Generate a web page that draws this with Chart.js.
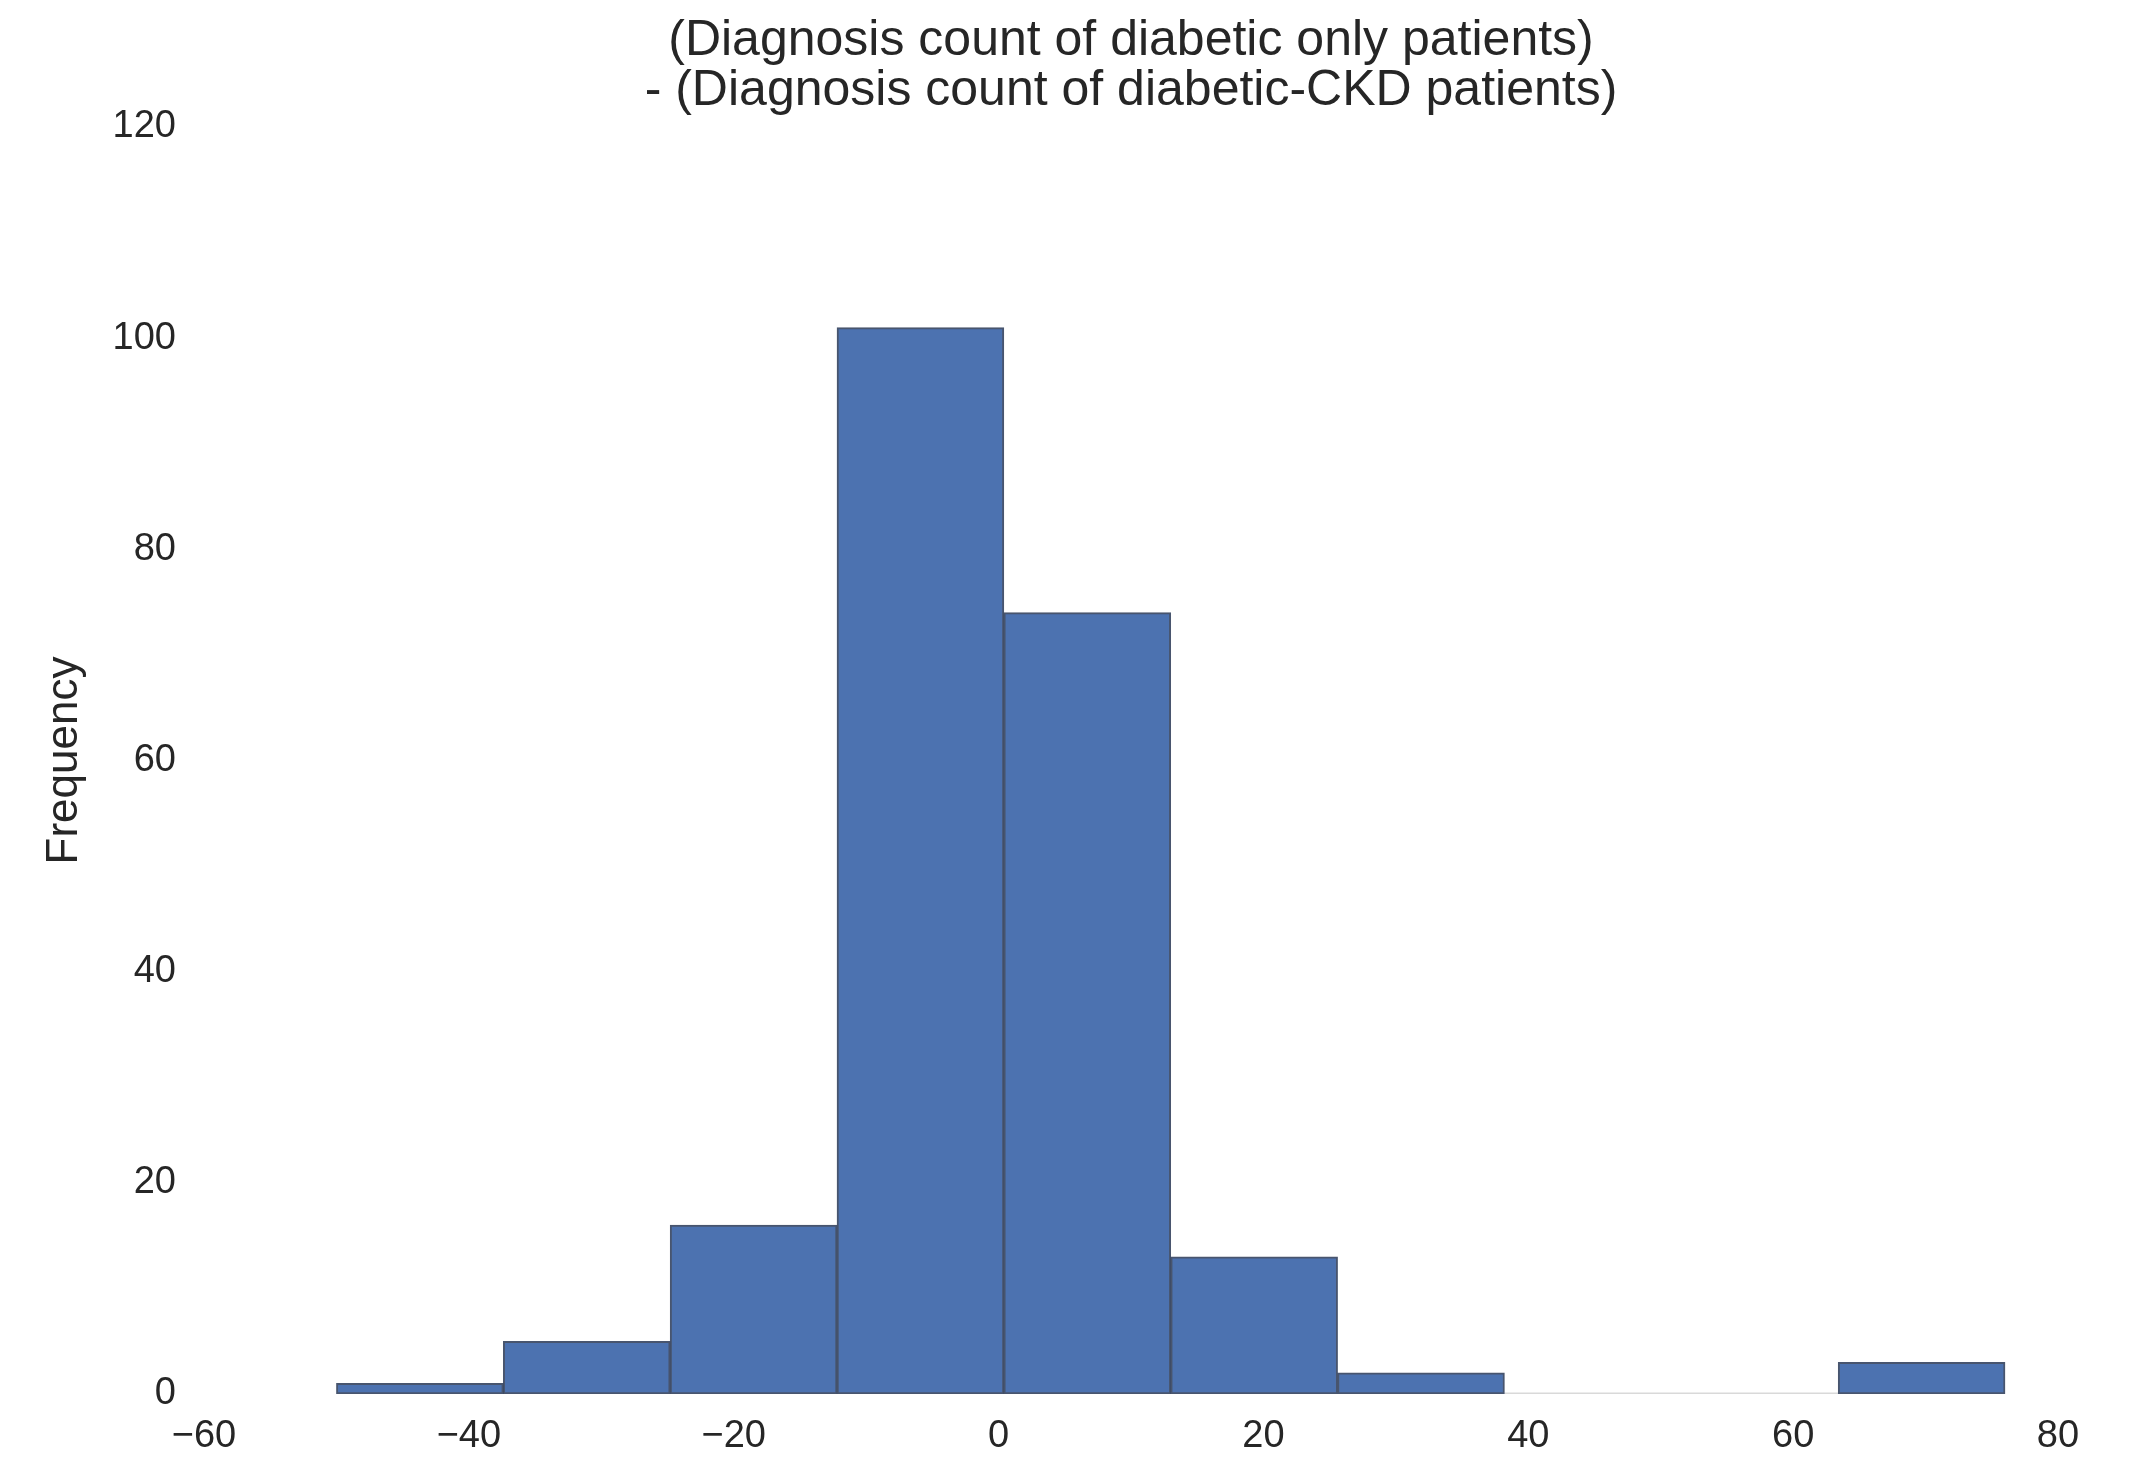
<!DOCTYPE html>
<html>
<head>
<meta charset="utf-8">
<script src="https://cdn.jsdelivr.net/npm/chart.js@4.4.1/dist/chart.umd.min.js"></script>
<style>
  html, body { margin: 0; padding: 0; background: #fff; }
  #wrap { width: 2130px; height: 1458px; }
</style>
</head>
<body>
<div id="wrap"><canvas id="hist" width="2130" height="1458"></canvas></div>
<script>
// ==========================================
// DATA
// ==========================================
const binEdges = [-50, -37.4, -24.8, -12.2, 0.4, 13, 25.6, 38.2, 50.8, 63.4, 76]; // 10 bins
const counts   = [1, 5, 16, 101, 74, 13, 2, 0, 0, 3];
const xTicks   = [-60, -40, -20, 0, 20, 40, 60, 80];
const yTicks   = [0, 20, 40, 60, 80, 100, 120];
const titleLines = ['(Diagnosis count of diabetic only patients)', '- (Diagnosis count of diabetic-CKD patients)'];
const yLabel = 'Frequency';

const FONT = '"Liberation Sans", Arial, Helvetica, sans-serif';
const TEXT = '#262626';

// bar centres from the bin edges
const barData = counts.map((c, i) => ({ x: (binEdges[i] + binEdges[i + 1]) / 2, y: c }));

// empty bins only show their edge as a thin grey line on the baseline
const emptyData = [];
counts.forEach((c, i) => {
    if (c === 0) {
        emptyData.push({ x: binEdges[i], y: 0 }, { x: binEdges[i + 1], y: 0 });
    } else {
        emptyData.push({ x: (binEdges[i] + binEdges[i + 1]) / 2, y: null });
    }
});

const ctx = document.getElementById('hist').getContext('2d');
new Chart(ctx, {
    type: 'bar',
    data: {
        datasets: [
            {
                data: barData,
                backgroundColor: '#4c72b0',
                borderColor: 'rgba(40,55,85,0.85)',
                borderWidth: 2,
                borderSkipped: false,
                barPercentage: 1.0,
                categoryPercentage: 1.0,
                order: 0
            },
            {
                type: 'line',
                data: emptyData,
                borderColor: '#d9d9d9',
                borderWidth: 3,
                pointRadius: 0,
                spanGaps: false,
                order: 1
            }
        ]
    },
    options: {
        responsive: false,
        devicePixelRatio: 1,
        animation: false,
        layout: { padding: { top: 0, right: 72, bottom: 0, left: 0 } },
        plugins: {
            legend: { display: false },
            tooltip: { enabled: false },
            title: {
                display: true,
                fullSize: false, // centre the title over the plot area, like matplotlib
                text: titleLines,
                color: TEXT,
                font: { family: FONT, size: 50, weight: 'normal', lineHeight: 50 / 50 },
                padding: { top: 16, bottom: 11 }
            }
        },
        scales: {
            x: {
                type: 'linear',
                min: -60,
                max: 80,
                offset: false,
                grid: { display: false, drawTicks: false },
                border: { display: false },
                afterBuildTicks: s => { s.ticks = xTicks.map(v => ({ value: v })); },
                afterFit: s => { s.height = 64; },
                ticks: {
                    color: TEXT,
                    padding: 20,
                    maxRotation: 0,
                    font: { family: FONT, size: 38 },
                    callback: v => v < 0 ? '\u2212' + Math.abs(v) : String(v)
                }
            },
            y: {
                min: 0,
                max: 120,
                grid: { display: false, drawTicks: false },
                border: { display: false },
                afterBuildTicks: s => { s.ticks = yTicks.map(v => ({ value: v })); },
                afterFit: s => { s.width = 204; },
                ticks: {
                    color: TEXT,
                    padding: 28,
                    font: { family: FONT, size: 38 }
                },
                title: {
                    display: true,
                    text: yLabel,
                    color: TEXT,
                    font: { family: FONT, size: 44 },
                    padding: { top: 38, bottom: 0 }
                }
            }
        }
    }
});
</script>
</body>
</html>
